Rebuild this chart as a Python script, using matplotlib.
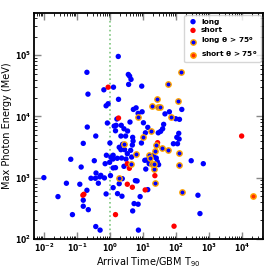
import matplotlib
matplotlib.use("Agg")
import matplotlib.pyplot as plt
from matplotlib.ticker import FuncFormatter, FixedLocator
import numpy as np

# long GRBs
long_x = [0.20, 1.27, 0.65, 0.215, 0.875, 0.76, 0.83, 0.205, 0.37, 1.33, 1.77, 3.56, 3.9, 4.3, 3.64,
          9.06, 1.80, 6.12, 5.06, 7.04, 9.3, 1.61, 4.0, 10.2, 1.53, 2.18, 2.63, 1.46, 3.39, 13.8,
          11.7, 2.13, 2.95, 4.82, 147, 62, 45.6, 96.5, 125, 41.6, 38.8, 33.7, 28.6, 119, 104,
          122, 0.155, 0.065, 0.334, 0.134, 0.776, 1.06, 1.24, 0.71, 1.24, 0.377, 0.265, 0.359, 0.489,
          0.525, 0.675, 1.03, 0.01, 0.048, 0.122, 0.443, 0.20, 0.76, 0.0267, 0.155, 1.24, 0.155,
          0.22, 0.073, 0.37, 0.50, 0.99, 4.96, 8.87, 1.89, 2.39, 2.13, 4.72, 2.75, 3.32, 4.19,
          4.49, 1.22, 0.97, 1.65, 2.23, 3.03, 1.46, 2.63, 12.9, 11.2, 15.2, 12.0, 2.34, 5.82,
          6.56, 1.89, 13.8, 1.68, 2.29, 8.1, 5.32, 7.04, 4.82, 7.19, 82, 109, 20.2, 24.9, 26.7,
          29.3, 283, 452, 520, 656]
long_y = [52500, 30000, 27200, 23100, 16100, 14900, 7800, 6700, 4780, 6950, 95300, 48400, 45500, 40200, 33300,
          31200, 19000, 13800, 13000, 11200, 11900, 9060, 8090, 7870, 7150, 7150, 6280, 5830, 5770, 6620,
          5400, 4780, 4780, 4550, 13000, 11900, 11000, 9160, 8950, 7420, 6280, 5700, 5400, 5290, 4550,
          4270, 3630, 1995, 1890, 1490, 2320, 2150, 2320, 1690, 1440, 1190, 977, 977, 1030,
          1090, 990, 1080, 1000, 810, 780, 810, 622, 542, 490, 428, 686, 341,
          300, 249, 159, 139, 3680, 3960, 3680, 3130, 3500, 2860, 3410, 2860, 2460, 2790,
          2170, 2010, 1780, 2070, 2090, 2010, 1455, 1530, 1940, 1920, 1690, 1380, 962, 893,
          883, 797, 637, 548, 497, 490, 377, 368, 286, 139, 3580, 3580, 2280, 2090, 1820,
          1630, 1890, 516, 259, 1690]

# short GRBs
short_x = [0.875, 1.80, 9450, 0.162, 0.151, 1.46, 3.32, 3.82, 3.32, 4.72, 11.5, 22.6, 27.3, 85.7]
short_y = [30000, 9400, 4780, 535, 516, 249, 1690, 1420, 780, 697, 630, 1077, 3720, 161]

# long GRBs with theta > 75 deg
long75_x = [18.3, 6.84, 17.1, 10.2, 140, 56.2, 26, 111, 27.9, 31.4, 69.4, 2.64, 6.12, 4.4,
            14.8, 15.6, 18.3, 20.6, 1.85, 22.6, 24.9, 36.9, 56.2, 22.6, 119, 21.3, 119, 147]
long75_y = [14900, 9860, 5770, 4600, 52300, 34000, 19000, 18000, 14000, 14000, 9860, 3580, 2460, 1690,
            2340, 2070, 1690, 1380, 1000, 810, 3370, 3010, 2860, 2690, 2500, 1690, 1590, 577]

# short GRBs with theta > 75 deg
short75_x = [21500]
short75_y = [508]

# major tick positions
x_ticks = [1e-2, 1e-1, 1e0, 1e1, 1e2, 1e3, 1e4]
y_ticks = [1e2, 1e3, 1e4, 1e5]

fig = plt.figure(figsize=(2.69, 2.69), dpi=100)
ax = fig.add_axes([0.126, 0.112, 0.852, 0.840])

ms = 15
ax.axvline(1.0, color='#5fb85f', linestyle=':', linewidth=1.2, alpha=0.8, zorder=1)
ax.scatter(long_x, long_y, s=ms, c='#0000ff', edgecolors='none', label='long', zorder=3)
ax.scatter(short_x, short_y, s=ms, c='#ff0000', edgecolors='none', label='short', zorder=3)
ax.scatter(long75_x, long75_y, s=ms, c='#0000ff', edgecolors='#ffa500', linewidths=1.0,
           label=r'long $\mathbf{\theta}$ > 75$^\mathbf{o}$', zorder=4)
ax.scatter(short75_x, short75_y, s=ms, c='#ff3000', edgecolors='#ffa500', linewidths=1.0,
           label=r'short $\mathbf{\theta}$ > 75$^\mathbf{o}$', zorder=4)

ax.set_xscale('log')
ax.set_yscale('log')
ax.set_xlim(5e-3, 4.2e4)
ax.set_ylim(100, 4.9e5)


def bold_log(v, pos):
    e = int(round(np.log10(v)))
    return r'$\mathbf{10^{%d}}$' % e


ax.xaxis.set_major_locator(FixedLocator(x_ticks))
ax.yaxis.set_major_locator(FixedLocator(y_ticks))
ax.xaxis.set_major_formatter(FuncFormatter(bold_log))
ax.yaxis.set_major_formatter(FuncFormatter(bold_log))

ax.tick_params(which='both', direction='in', top=True, right=True)
ax.tick_params(which='major', length=5, width=1.0, color='#888888', labelsize=5.5, pad=2)
ax.tick_params(which='minor', length=2.5, width=0.6, color='black')
for sp in ax.spines.values():
    sp.set_linewidth(1.3)

ax.set_xlabel(r'Arrival Time/GBM T$_{90}$', fontsize=7, labelpad=1)
ax.set_ylabel('Max Photon Energy (MeV)', fontsize=7, labelpad=2)

leg = ax.legend(loc='upper right', scatterpoints=1, frameon=True,
                prop={'weight': 'bold', 'size': 5.3}, borderpad=0.4, labelspacing=0.35,
                handletextpad=0.3, handlelength=1.6, borderaxespad=0.35)
leg.get_frame().set_edgecolor('#cccccc')

fig.savefig('out.png', dpi=100)
